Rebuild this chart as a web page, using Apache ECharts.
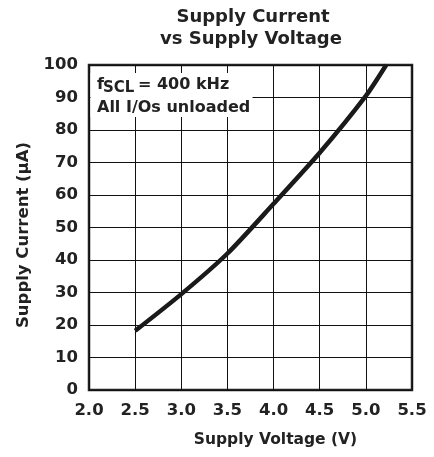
<!DOCTYPE html>
<html>
<head>
<meta charset="utf-8">
<script src="https://cdn.jsdelivr.net/npm/echarts@6/dist/echarts.min.js"></script>
<style>html,body{margin:0;padding:0;background:#fff}#c{width:434px;height:457px}</style>
</head>
<body>
<div id="c"></div>
<script>
var voltage = [2.5, 3.0, 3.5, 4.0, 4.5, 5.0, 5.22];
var current = [18.2, 29.5, 42.0, 57.3, 73.0, 90.5, 100];
var titleLines = ['Supply Current', 'vs Supply Voltage'];
var xName = 'Supply Voltage (V)';
var yName = 'Supply Current (\u03BCA)';

var F = '"DejaVu Sans", "Liberation Sans", Arial, sans-serif';
var chart = echarts.init(document.getElementById('c'));
chart.setOption({
  backgroundColor: '#fff',
  animation: false,
  grid: {left: 89, right: 22, top: 65, bottom: 67, show: true, borderColor: '#222', borderWidth: 2.5, backgroundColor: 'transparent'},
  xAxis: {
    type: 'value', min: 2.0, max: 5.5, interval: 0.5,
    axisLine: {show: false}, axisTick: {show: false},
    splitLine: {show: true, lineStyle: {color: '#111', width: 1}},
    axisLabel: {margin: 12, color: '#222', fontFamily: F, fontWeight: 'bold', fontSize: 16.5, formatter: function (v) { return v.toFixed(1); }},
    name: xName, nameLocation: 'middle', nameGap: 42,
    nameTextStyle: {color: '#222', fontFamily: F, fontWeight: 'bold', fontSize: 15.5, padding: [0, 0, 0, 50]}
  },
  yAxis: {
    type: 'value', min: 0, max: 100, interval: 10,
    axisLine: {show: false}, axisTick: {show: false},
    splitLine: {show: true, lineStyle: {color: '#111', width: 1}},
    axisLabel: {margin: 11, color: '#222', fontFamily: F, fontWeight: 'bold', fontSize: 16.5},
    name: yName, nameLocation: 'middle', nameGap: 55,
    nameTextStyle: {color: '#222', fontFamily: F, fontWeight: 'bold', fontSize: 16.5, padding: [0, 15, 0, 0]}
  },
  series: [{
    type: 'line', data: voltage.map(function (v, i) { return [v, current[i]]; }),
    smooth: 0.25, symbol: 'none', clip: true,
    lineStyle: {color: '#1a1a1a', width: 4.5}, z: 3
  }],
  graphic: [
    {type: 'text', x: 253, y: 8, style: {text: titleLines[0], textAlign: 'center', textVerticalAlign: 'top', font: 'bold 18px ' + F, fill: '#222'}},
    {type: 'text', x: 251, y: 30, style: {text: titleLines[1], textAlign: 'center', textVerticalAlign: 'top', font: 'bold 18px ' + F, fill: '#222'}},
    {type: 'rect', z: 5, shape: {x: 90.5, y: 73, width: 162, height: 44}, style: {fill: '#fff'}},
    {type: 'text', z: 6, x: 97, y: 76.5, style: {text: 'f', textVerticalAlign: 'top', font: 'bold 16px ' + F, fill: '#222'}},
    {type: 'text', z: 6, x: 103, y: 80.5, style: {text: 'SCL', textVerticalAlign: 'top', font: 'bold 15px ' + F, fill: '#222'}},
    {type: 'text', z: 6, x: 138, y: 76.5, style: {text: '= 400 kHz', textVerticalAlign: 'top', font: 'bold 16px ' + F, fill: '#222'}},
    {type: 'text', z: 6, x: 97, y: 99.5, style: {text: 'All I/Os unloaded', textVerticalAlign: 'top', font: 'bold 16px ' + F, fill: '#222'}}
  ]
});
</script>
</body>
</html>
